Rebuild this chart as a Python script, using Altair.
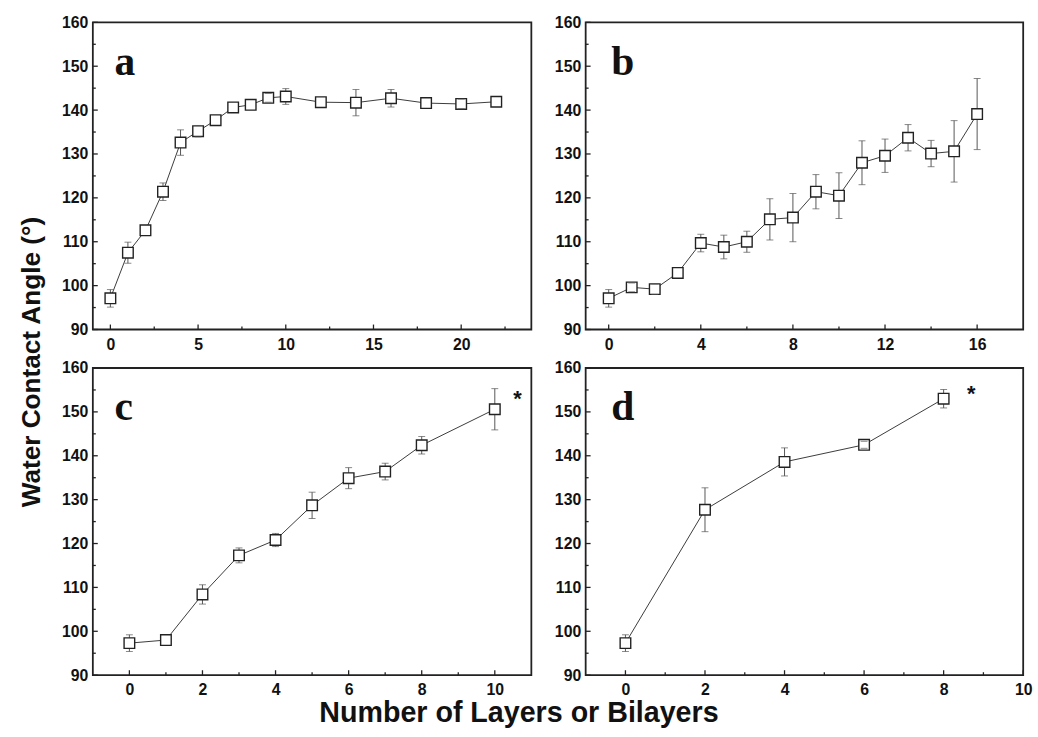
import altair as alt
import pandas as pd

# ---------------- data ----------------
a_x = [0, 1, 2, 3, 4, 5, 6, 7, 8, 9, 10, 12, 14, 16, 18, 20, 22]
a_y = [97.1, 107.5, 112.6, 121.4, 132.6, 135.2, 137.7, 140.6, 141.2, 142.8,
       143.1, 141.8, 141.7, 142.7, 141.6, 141.4, 141.9]
a_err = [2.0, 2.4, 0, 2.0, 2.9, 1.3, 0, 0, 0, 1.0, 1.8, 0, 3.0, 2.0, 0, 1.1, 0]

b_x = list(range(17))
b_y = [97.1, 99.6, 99.2, 102.9, 109.7, 108.8, 110.0, 115.1, 115.5, 121.4,
       120.5, 128.0, 129.6, 133.7, 130.1, 130.6, 139.1]
b_err = [2.0, 1.0, 1.2, 0, 2.0, 2.7, 2.4, 4.7, 5.5, 3.9, 5.2, 5.0, 3.8, 3.0,
         3.0, 7.0, 8.1]

c_x = [0, 1, 2, 3, 4, 5, 6, 7, 8, 10]
c_y = [97.3, 98.0, 108.4, 117.3, 120.8, 128.7, 134.9, 136.4, 142.4, 150.6]
c_err = [1.9, 0, 2.2, 1.7, 1.5, 3.0, 2.4, 1.9, 2.0, 4.7]

d_x = [0, 2, 4, 6, 8]
d_y = [97.3, 127.7, 138.6, 142.5, 153.0]
d_err = [1.9, 5.0, 3.2, 0.8, 2.1]

y_major = [90, 100, 110, 120, 130, 140, 150, 160]
y_minor = [95, 105, 115, 125, 135, 145, 155]

a_xmajor = [0, 5, 10, 15, 20]
a_xminor = [2.5, 7.5, 12.5, 17.5, 22.5]
b_xmajor = [0, 4, 8, 12, 16]
b_xminor = [2, 6, 10, 14]
c_xmajor = [0, 2, 4, 6, 8, 10]
c_xminor = [1, 3, 5, 7, 9]
d_xmajor = [0, 2, 4, 6, 8, 10]
d_xminor = [1, 3, 5, 7, 9]

y_title = "Water Contact Angle (°)"
x_title = "Number of Layers or Bilayers"

LINE = "#3a3a3a"
ERR = "#555555"
EDGE = "#222222"
H = 311


def panel(xs, ys, errs, xdom, xmaj, xmin, label, width, star=None):
    df = pd.DataFrame({"x": xs, "y": ys, "err": errs})
    df["lo"] = df["y"] - df["err"]
    df["hi"] = df["y"] + df["err"]
    dfe = df[df["err"] > 0]
    xs_ = alt.Scale(domain=xdom, nice=False, zero=False)
    ys_ = alt.Scale(domain=[90, 160], nice=False, zero=False)
    xax = alt.Axis(values=xmaj, title=None, labelFlush=False, labelOverlap=False,
                   labelPadding=7, ticks=False, domain=False, grid=False,
                   labelFont="Liberation Sans", labelFontWeight="bold",
                   labelFontSize=16, labelColor="#111")
    yax = alt.Axis(values=y_major, title=None, labelFlush=False, labelOverlap=False,
                   labelPadding=5, ticks=False, domain=False, grid=False,
                   labelFont="Liberation Sans", labelFontWeight="bold",
                   labelFontSize=16, labelColor="#111")

    def X(f):
        return alt.X(f, scale=xs_, axis=xax, title=None)

    def Y(f):
        return alt.Y(f, scale=ys_, axis=yax, title=None)

    base = alt.Chart(df)
    errbar = alt.Chart(dfe).mark_rule(color=ERR, strokeWidth=1).encode(
        x=X("x:Q"), y=Y("lo:Q"), y2="hi:Q",
    )
    line = base.mark_line(color=LINE, strokeWidth=1).encode(x=X("x:Q"), y=Y("y:Q"))
    pts = base.mark_point(shape="square", size=115, fill="white", fillOpacity=1,
                          stroke=EDGE, strokeWidth=1.4, opacity=1).encode(
        x=X("x:Q"), y=Y("y:Q"))
    cap_lo = alt.Chart(dfe).mark_tick(orient="horizontal", size=7, thickness=1,
                                      color=ERR).encode(x=X("x:Q"), y=Y("lo:Q"))
    cap_hi = alt.Chart(dfe).mark_tick(orient="horizontal", size=7, thickness=1,
                                      color=ERR).encode(x=X("x:Q"), y=Y("hi:Q"))
    xmaj_t = alt.Chart(pd.DataFrame({"t": xmaj})).mark_rule(color=EDGE, strokeWidth=1.3).encode(
        x=X("t:Q"), y=alt.value(H), y2=alt.value(H - 5))
    xmin_t = alt.Chart(pd.DataFrame({"t": xmin})).mark_rule(color=EDGE, strokeWidth=1.3).encode(
        x=X("t:Q"), y=alt.value(H), y2=alt.value(H - 3))
    ymaj_t = alt.Chart(pd.DataFrame({"t": y_major})).mark_rule(color=EDGE, strokeWidth=1.3).encode(
        y=Y("t:Q"), x=alt.value(0), x2=alt.value(5))
    ymin_t = alt.Chart(pd.DataFrame({"t": y_minor})).mark_rule(color=EDGE, strokeWidth=1.3).encode(
        y=Y("t:Q"), x=alt.value(0), x2=alt.value(3))
    lab = alt.Chart(pd.DataFrame({"t": [label]})).mark_text(
        font="Liberation Serif", fontWeight="bold", fontSize=42, align="left",
        baseline="alphabetic", color="#111").encode(
        text="t:N",
        x=alt.value(22 if label in ("a", "c") else 26),
        y=alt.value(53),
    )
    layers = [line, errbar, pts, cap_lo, cap_hi, xmaj_t, xmin_t, ymaj_t, ymin_t, lab]
    if star is not None:
        sdf = pd.DataFrame({"x": [xs[-1]], "y": [ys[-1]], "s": ["*"]})
        st = alt.Chart(sdf).mark_text(
            font="Liberation Sans", fontWeight="bold", fontSize=22, color="#111",
            dx=star[0], dy=star[1]).encode(x=X("x:Q"), y=Y("y:Q"), text="s:N")
        layers.append(st)
    return alt.layer(*layers).properties(width=width, height=H)


pa = panel(a_x, a_y, a_err, [-1, 24], a_xmajor, a_xminor, "a", 444)
pb = panel(b_x, b_y, b_err, [-1, 18], b_xmajor, b_xminor, "b", 443)
pc = panel(c_x, c_y, c_err, [-1, 11], c_xmajor, c_xminor, "c", 444, star=(23, -10))
pd_ = panel(d_x, d_y, d_err, [-1, 10], d_xmajor, d_xminor, "d", 443, star=(28, -5))

row1 = alt.hconcat(pa, pb, spacing=21)
row2 = alt.hconcat(pc, pd_, spacing=21)
grid = alt.vconcat(row1, row2, spacing=6)

ytitle = alt.Chart(pd.DataFrame({"t": [y_title]})).mark_text(
    font="Liberation Sans", fontWeight="bold", fontSize=26.5, angle=270,
    align="center", baseline="middle", color="#111").encode(
    text="t:N", x=alt.value(27), y=alt.value(344),
).properties(width=54, height=660, view=alt.ViewBackground(stroke="transparent"))

chart = alt.hconcat(ytitle, grid, spacing=0).properties(
    title=alt.TitleParams(x_title, orient="bottom", anchor="middle",
                          font="Liberation Sans", fontSize=29, fontWeight="bold",
                          color="#111", offset=1),
    padding={"left": 5, "top": 9, "right": 5, "bottom": 5},
).configure_view(stroke="#222222", strokeWidth=1.8)

chart.save("out.html", embed_options={"renderer": "svg", "actions": False})
